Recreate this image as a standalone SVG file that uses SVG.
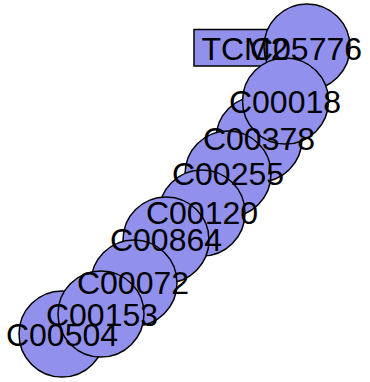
<svg xmlns="http://www.w3.org/2000/svg" width="370" height="382" viewBox="0 0 370 382">
<style>
.n{fill:#9191ED;stroke:#000;stroke-width:1.5}
.t{font-family:"Liberation Sans",Arial,sans-serif;font-size:32px;fill:#000;text-anchor:middle}
</style>
<rect width="370" height="382" fill="#fff"/>
<g id="connectors"/>
<g id="node-TCM2"><rect class="n" x="194" y="29.5" width="102" height="36.5"/></g>
<g id="node-C05776"><circle class="n" cx="307" cy="47" r="43"/></g>
<g id="node-C00378"><circle class="n" cx="259" cy="139" r="43"/></g>
<g id="node-C00018"><circle class="n" cx="285.5" cy="101" r="43"/></g>
<g id="node-C00255"><circle class="n" cx="228" cy="174" r="43"/></g>
<g id="node-C00120"><circle class="n" cx="202" cy="213" r="43"/></g>
<g id="node-C00864"><circle class="n" cx="166" cy="240" r="43"/></g>
<g id="node-C00072"><circle class="n" cx="134" cy="283" r="43"/></g>
<g id="node-C00504"><circle class="n" cx="62" cy="334" r="43"/></g>
<g id="node-C00153"><circle class="n" cx="101" cy="314" r="43"/></g>
<g id="labels">
<text class="t" x="245" y="60">TCM2</text>
<text class="t" x="306" y="60">C05776</text>
<text class="t" x="285" y="113">C00018</text>
<text class="t" x="259" y="150">C00378</text>
<text class="t" x="228" y="185">C00255</text>
<text class="t" x="202" y="224">C00120</text>
<text class="t" x="166" y="251">C00864</text>
<text class="t" x="133" y="294">C00072</text>
<text class="t" x="102" y="326">C00153</text>
<text class="t" x="62" y="346">C00504</text>
</g>
</svg>
